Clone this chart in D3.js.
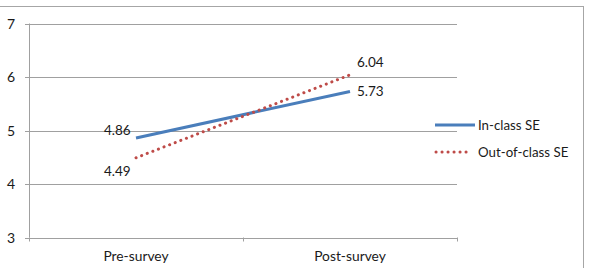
<!DOCTYPE html>
<html><head><meta charset="utf-8">
<script src="https://cdn.jsdelivr.net/npm/d3@7"></script>
<style>body{margin:0;background:#fff}svg{display:block}text{font-family:Lato,"Open Sans",sans-serif;fill:#1a1a1a}</style>
</head><body><svg id="c" width="591" height="268"></svg>
<script>
const categories = ["Pre-survey", "Post-survey"];
const inClassSE = [4.86, 5.73];
const outOfClassSE = [4.49, 6.04];
const seriesNames = ["In-class SE", "Out-of-class SE"];
const yTicks = [3, 4, 5, 6, 7];

const svg = d3.select("#c");
svg.append("rect").attr("x", -1).attr("y", 6.5).attr("width", 584.5).attr("height", 270)
  .attr("fill", "none").attr("stroke", "#a6a6a6").attr("stroke-width", 1);

const x0 = 29, x1 = 457;
const x = d3.scaleBand().domain(categories).range([x0, x1]);
const y = d3.scaleLinear().domain([3, 7]).range([237.5, 23.5]);

const g = svg.append("g");
g.selectAll(".grid").data(yTicks).join("line")
  .attr("x1", x0 - 4).attr("x2", x1).attr("y1", d => Math.round(y(d)) + 0.5).attr("y2", d => Math.round(y(d)) + 0.5)
  .attr("stroke", "#a0a0a0").attr("stroke-width", 1);
g.append("line").attr("x1", x0 + 0.5).attr("x2", x0 + 0.5).attr("y1", y(7)).attr("y2", y(3))
  .attr("stroke", "#a0a0a0");
[x0, x0 + x.bandwidth(), x1].forEach(t => {
  g.append("line").attr("x1", t + 0.5).attr("x2", t + 0.5).attr("y1", y(3)).attr("y2", y(3) + 4).attr("stroke", "#a0a0a0");
});
g.selectAll(".yl").data(yTicks).join("text")
  .attr("x", 15).attr("y", d => y(d) + 5).attr("text-anchor", "end").attr("font-size", 14).text(d => d);
g.selectAll(".xl").data(categories).join("text")
  .attr("x", d => x(d) + x.bandwidth() / 2).attr("y", 261).attr("text-anchor", "middle").attr("font-size", 13.8).text(d => d);

const line = d3.line().x((d, i) => x(categories[i]) + x.bandwidth() / 2).y(d => y(d));
g.append("path").attr("d", line(inClassSE)).attr("fill", "none").attr("stroke", "#4a7ebb").attr("stroke-width", 3);
g.append("path").attr("d", line(outOfClassSE)).attr("fill", "none").attr("stroke", "#be4b48")
  .attr("stroke-width", 3).attr("stroke-dasharray", "0.1 5.9").attr("stroke-linecap", "round");

const cx = i => x(categories[i]) + x.bandwidth() / 2;
const lbl = (tx, ty, t) => g.append("text").attr("x", tx).attr("y", ty).attr("font-size", 13.5).text(t);
lbl(cx(0) - 32, y(inClassSE[0]) - 3, inClassSE[0].toFixed(2));
lbl(cx(0) - 32, y(outOfClassSE[0]) + 18, outOfClassSE[0].toFixed(2));
lbl(cx(1) + 7, y(outOfClassSE[1]) - 8, outOfClassSE[1].toFixed(2));
lbl(cx(1) + 7, y(inClassSE[1]) + 5, inClassSE[1].toFixed(2));

const lg = svg.append("g");
lg.append("line").attr("x1", 435).attr("x2", 475).attr("y1", 125).attr("y2", 125).attr("stroke", "#4a7ebb").attr("stroke-width", 3);
lg.append("line").attr("x1", 436).attr("x2", 472).attr("y1", 152).attr("y2", 152).attr("stroke", "#be4b48")
  .attr("stroke-width", 3).attr("stroke-dasharray", "0.1 5.9").attr("stroke-linecap", "round");
lg.append("text").attr("x", 478).attr("y", 130).attr("font-size", 13.3).text(seriesNames[0]);
lg.append("text").attr("x", 478).attr("y", 157).attr("font-size", 13.3).text(seriesNames[1]);
</script></body></html>
